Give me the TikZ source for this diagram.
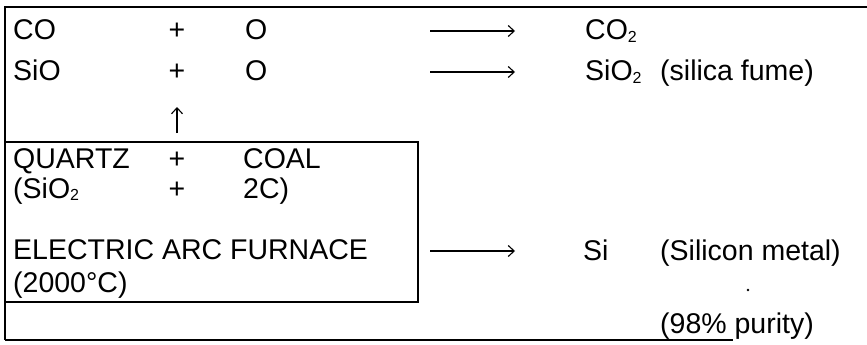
\documentclass[tikz,border=0pt]{standalone}
\usepackage{fontspec}
\setmainfont{Liberation Sans}
\usetikzlibrary{arrows.meta}
\newcommand{\subtwo}{\raisebox{-2.5pt}{\fontsize{16}{16}\selectfont 2}}
\tikzset{
  txt/.style={anchor=base west, inner sep=0pt, font=\fontsize{28.5}{30}\selectfont},
  plus/.style={anchor=base, inner sep=0pt, font=\fontsize{28.5}{30}\selectfont},
  frame/.style={line width=1.8pt},
  rarr/.style={line width=1.1pt, -{Straight Barb[length=6pt,width=11pt,line width=1.1pt]}},
}
\begin{document}
\begin{tikzpicture}[x=1pt,y=-1pt]
\useasboundingbox (0,0) rectangle (867,345);
% frame
\draw[frame] (867,7) -- (5,7) -- (5,340);
\draw[line width=1.2pt] (5,340) -- (733,340);
\draw[frame] (5,142) rectangle (418,302);
% row 1
\node[txt] (co) at (13,40) {CO};
\node[plus] (p1) at (177,40) {+};
\node[txt] (o1) at (245,40) {O};
\coordinate (a1s) at (430,31);
\coordinate (a1e) at (515,31);
\draw[rarr] (a1s) -- (a1e);
\node[txt] (co2) at (585,40) {CO\subtwo};
% row 2
\node[txt] (sio) at (13,81) {SiO};
\node[plus] (p2) at (177,81) {+};
\node[txt] (o2) at (245,81) {O};
\coordinate (a2s) at (430,72);
\coordinate (a2e) at (515,72);
\draw[rarr] (a2s) -- (a2e);
\node[txt] (sio2) at (585,81) {SiO\subtwo};
\node[txt] (fume) at (660,81) {(silica fume)};
% up arrow
\coordinate (us) at (177,133);
\coordinate (ue) at (177,107);
\draw[rarr] (us) -- (ue);
% furnace box
\node[txt] (quartz) at (13,168) {QUARTZ};
\node[plus] (p3) at (177,168) {+};
\node[txt] (coal) at (243,168) {COAL};
\node[txt] (sio2b) at (13,198) {(SiO\subtwo};
\node[plus] (p4) at (177,198) {+};
\node[txt] (c2) at (243,198) {2C)};
\node[txt] (eaf) at (13,259) {ELECTRIC ARC FURNACE};
\node[txt] (temp) at (13,292) {(2000°C)};
% row si
\coordinate (a3s) at (430,251);
\coordinate (a3e) at (515,251);
\draw[rarr] (a3s) -- (a3e);
\node[txt] (si) at (583,260) {Si};
\node[txt] (metal) at (660,260) {(Silicon metal)};
\fill (748,290) circle (1.3pt);
\node[txt] (purity) at (660,333) {(98\% purity)};
\end{tikzpicture}
\end{document}
